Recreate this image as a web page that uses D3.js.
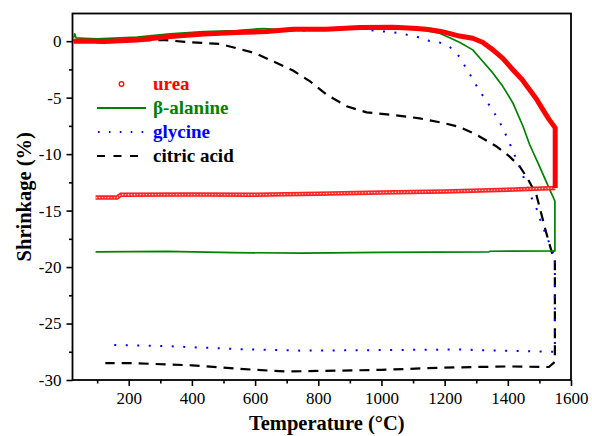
<!DOCTYPE html>
<html>
<head>
<meta charset="utf-8">
<script src="https://cdn.jsdelivr.net/npm/d3@7.9.0/dist/d3.min.js"></script>
<style>
  body { margin: 0; background: #fff; }
  svg { display: block; }
</style>
</head>
<body>
<svg id="chart" width="592" height="436"></svg>
<script>
// Shrinkage (%) vs temperature (°C), heating then cooling
const ureaHeat = [[25,0.0],[60,0.02],[121,-0.03],[226,0.11],[331,0.41],[437,0.64],[542,0.76],[637,0.85],[720,1.06],[826,1.06],[931,1.2],[1036,1.23],[1100,1.15],[1142,1.06],[1184,0.88],[1205,0.76],[1247,0.45],[1289,0.26],[1320,-0.1],[1353,-0.77],[1385,-1.55],[1416,-2.53],[1445,-3.4],[1469,-4.3],[1490,-5.1],[1511,-6.06],[1530,-6.9],[1550,-7.68],[1550,-13.0]];
const ureaCool = [[1550,-13.0],[1400,-13.15],[1200,-13.3],[1000,-13.4],[800,-13.5],[600,-13.6],[400,-13.58],[175,-13.6],[163,-13.85],[95,-13.85]];

const alanine = [[25,0.3],[29,0.65],[33,0.3],[60,0.25],[100,0.2],[226,0.35],[331,0.64],[437,0.85],[542,0.94],[625,1.12],[720,0.95],[826,1.12],[931,1.15],[1036,1.2],[1090,1.06],[1142,0.94],[1184,0.7],[1216,0.3],[1247,-0.1],[1289,-0.77],[1321,-1.8],[1353,-2.83],[1384,-4.0],[1416,-5.47],[1448,-7.53],[1469,-9.15],[1500,-11.06],[1532,-13.1],[1549,-14.15],[1549,-18.57],
  [1345,-18.6],[1340,-18.65],[1000,-18.7],[750,-18.77],[530,-18.72],[320,-18.62],[95,-18.66]];

const glycine = [[25,0.1],[121,-0.1],[226,0.1],[289,0.4],[384,0.56],[489,0.64],[594,0.91],[763,0.94],[868,1.15],[931,1.15],[973,0.94],[1037,0.79],[1068,0.64],[1110,0.41],[1147,0.05],[1184,-0.12],[1216,-0.5],[1247,-1.38],[1268,-2.38],[1289,-3.36],[1308,-4.3],[1332,-5.27],[1353,-6.15],[1374,-7.15],[1390,-8.06],[1405,-9.0],[1421,-10.03],[1435,-10.98],[1448,-11.9],[1460,-12.83],[1474,-13.8],[1490,-14.74],[1502,-15.77],[1516,-16.8],[1526,-17.5],[1541,-18.57],[1549,-18.8],[1549,-27.5],
  [1527,-27.5],[1448,-27.45],[1239,-27.3],[1000,-27.35],[743,-27.4],[531,-27.25],[321,-27.0],[147,-26.9]];

const citric = [[25,0.05],[121,-0.1],[226,0.05],[310,0.11],[395,-0.1],[489,-0.24],[600,-1.06],[720,-2.6],[774,-3.56],[827,-4.74],[890,-5.77],[953,-6.3],[1026,-6.5],[1121,-6.83],[1195,-7.24],[1247,-7.6],[1300,-8.27],[1363,-9.3],[1405,-10.2],[1437,-11.06],[1463,-12.18],[1490,-13.56],[1521,-16.9],[1538,-18.57],[1549,-19.5],[1549,-28.4],
  [1530,-28.85],[1400,-28.8],[1200,-28.9],[1000,-29.1],[800,-29.2],[700,-29.25],[600,-29.1],[400,-28.7],[200,-28.5],[126,-28.5]];

const xMajor = [200, 400, 600, 800, 1000, 1200, 1400, 1600];
const xMinor = [100, 300, 500, 700, 900, 1100, 1300, 1500];
const yMajor = [-30, -25, -20, -15, -10, -5, 0];
const yMinor = [-27.5, -22.5, -17.5, -12.5, -7.5, -2.5];

const legendItems = [
  { label: 'urea', color: '#ff0000', kind: 'circle' },
  { label: '\u03b2-alanine', color: '#008000', kind: 'solid' },
  { label: 'glycine', color: '#0000ff', kind: 'dot' },
  { label: 'citric acid', color: '#000000', kind: 'dash' }
];

const FONT = 'Liberation Serif, DejaVu Serif, Noto Serif, Times New Roman, serif';

const svg = d3.select('#chart').attr('font-family', FONT);
const plotL = 72.5, plotR = 571, plotT = 13.5, plotB = 380;

const x = d3.scaleLinear().domain([22, 1600]).range([plotL, plotR]);
const y = d3.scaleLinear().domain([-30, 2.45]).range([plotB, plotT]);

const line = d3.line().x(d => x(d[0])).y(d => y(d[1]));

// axes
const gx = svg.append('g').attr('transform', `translate(0,${plotB})`)
  .call(d3.axisBottom(x).tickValues(xMajor).tickSize(6).tickPadding(6).tickFormat(d => String(d)));
const gxm = svg.append('g').attr('transform', `translate(0,${plotB})`)
  .call(d3.axisBottom(x).tickValues(xMinor).tickSize(3.5).tickFormat(''));
const gy = svg.append('g').attr('transform', `translate(${plotL},0)`)
  .call(d3.axisLeft(y).tickValues(yMajor).tickSize(6).tickPadding(5).tickFormat(d => String(d)));
const gym = svg.append('g').attr('transform', `translate(${plotL},0)`)
  .call(d3.axisLeft(y).tickValues(yMinor).tickSize(3.5).tickFormat(''));

[gx, gxm, gy, gym].forEach(g => {
  g.attr('font-family', FONT).attr('font-size', 17);
  g.select('.domain').remove();
  g.selectAll('line').attr('stroke', '#000').attr('stroke-width', 1.6);
  g.selectAll('text').attr('fill', '#000').attr('font-family', FONT);
});

// frame
svg.append('rect')
  .attr('x', plotL).attr('y', plotT)
  .attr('width', plotR - plotL).attr('height', plotB - plotT)
  .attr('fill', 'none').attr('stroke', '#000').attr('stroke-width', 1.8);

// series
const plot = svg.append('g');

plot.append('path').datum(citric)
  .attr('d', line).attr('fill', 'none')
  .attr('stroke', '#000').attr('stroke-width', 2.2)
  .attr('stroke-dasharray', '10 7');

plot.append('path').datum(glycine)
  .attr('d', line).attr('fill', 'none')
  .attr('stroke', '#0000ff').attr('stroke-width', 2)
  .attr('stroke-dasharray', '2 9.5');

plot.append('path').datum(alanine)
  .attr('d', line).attr('fill', 'none')
  .attr('stroke', '#008000').attr('stroke-width', 1.7)
  .attr('stroke-linejoin', 'round');

// urea: dense open circles -> thick red band on heating, ring chain on cooling
plot.append('path').datum(ureaCool)
  .attr('d', line).attr('fill', 'none')
  .attr('stroke', '#ff2020').attr('stroke-width', 4.5);
plot.append('path').datum(ureaCool)
  .attr('d', line).attr('fill', 'none')
  .attr('stroke', '#ffd0d0').attr('stroke-width', 1.3)
  .attr('stroke-dasharray', '1.5 1.5');
plot.append('path').datum(ureaHeat)
  .attr('d', line).attr('fill', 'none')
  .attr('stroke', '#ff0000').attr('stroke-width', 5)
  .attr('stroke-linejoin', 'round');

// legend
const lg = svg.append('g');
legendItems.forEach((d, i) => {
  const by = 90 + i * 24;
  const sy = by - 6;
  if (d.kind === 'circle') {
    lg.append('circle').attr('cx', 121.5).attr('cy', sy).attr('r', 2.3)
      .attr('fill', 'none').attr('stroke', d.color).attr('stroke-width', 1.2);
  } else {
    const l = lg.append('line').attr('x1', 97).attr('x2', 146).attr('y1', sy).attr('y2', sy)
      .attr('stroke', d.color);
    if (d.kind === 'solid') l.attr('stroke-width', 1.8);
    if (d.kind === 'dot') l.attr('stroke-width', 2).attr('stroke-dasharray', '1.6 9.3').attr('x1', 98);
    if (d.kind === 'dash') l.attr('stroke-width', 2.2).attr('stroke-dasharray', '8 8.5');
  }
  lg.append('text').attr('x', 153).attr('y', by)
    .attr('fill', d.color).attr('font-family', FONT)
    .attr('font-size', 19).attr('font-weight', 'bold')
    .text(d.label);
});

// axis titles
svg.append('text')
  .attr('x', (plotL + plotR) / 2 + 5).attr('y', 430)
  .attr('text-anchor', 'middle').attr('font-family', FONT)
  .attr('font-size', 20.5).attr('font-weight', 'bold')
  .text('Temperature (\u00b0C)');

svg.append('text')
  .attr('transform', `translate(31,${(plotT + plotB) / 2}) rotate(-90)`)
  .attr('text-anchor', 'middle').attr('font-family', FONT)
  .attr('font-size', 20.5).attr('font-weight', 'bold')
  .text('Shrinkage (%)');
</script>
</body>
</html>
